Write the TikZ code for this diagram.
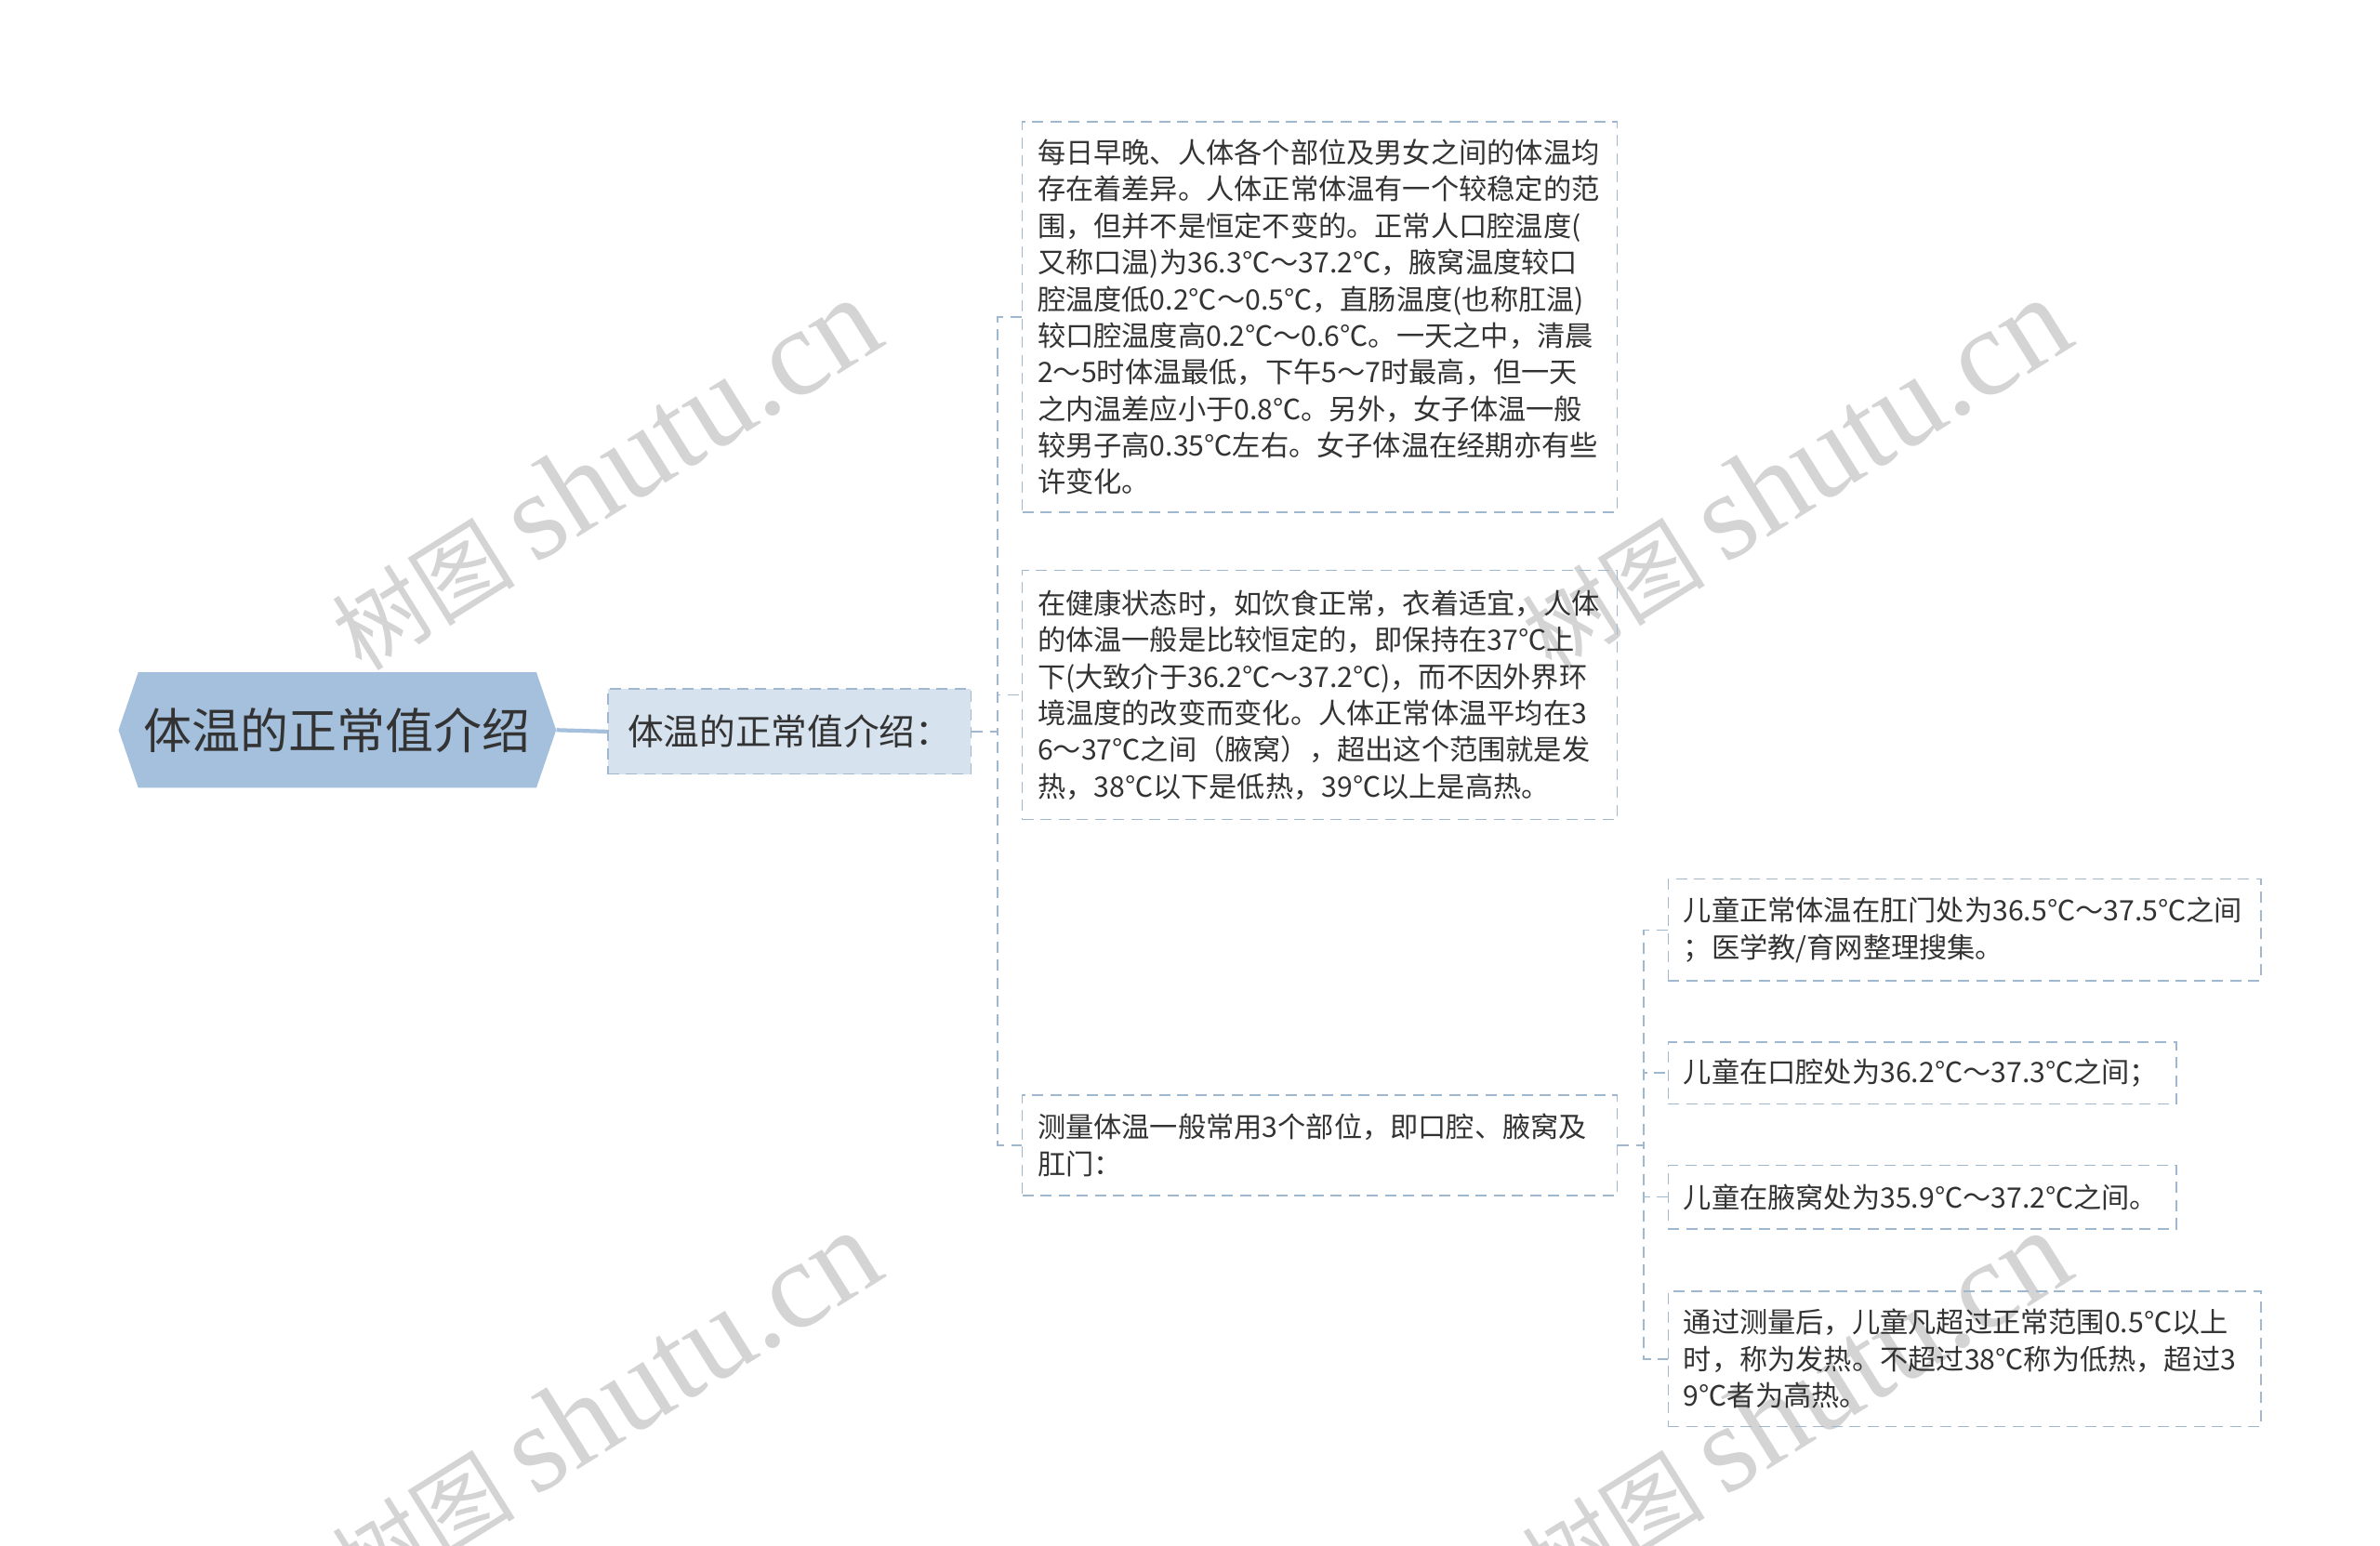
\documentclass[tikz,border=0pt]{standalone}
\usepackage{fontspec}
\setmainfont{Noto Sans CJK SC}
\newfontfamily\wmserif{Liberation Serif}
\usetikzlibrary{positioning}
\definecolor{rootblue}{RGB}{164,192,220}
\definecolor{subfill}{RGB}{214,226,237}
\definecolor{dashblue}{RGB}{160,184,207}
\definecolor{txt}{RGB}{51,51,51}
\definecolor{wmgray}{RGB}{212,212,212}
\tikzset{
  dashes/.style={line width=0.45pt, dash pattern=on 1.2mm off 0.75mm},
  rootnode/.style={minimum width=47mm, minimum height=12.4mm, inner sep=0pt, text=txt,
    font=\fontsize{14.8pt}{16pt}\selectfont},
  subnode/.style={draw=dashblue, fill=subfill, dashes, minimum width=39.05mm, minimum height=9.15mm,
    inner sep=0pt, text=txt, font=\fontsize{11pt}{13pt}\selectfont},
  leaf/.style={draw=dashblue, dashes, text width=#1, inner xsep=1.64mm, inner ysep=0pt, align=left,
    text=txt, font=\fontsize{8.6pt}{11.2pt}\selectfont},
  link/.style={draw=dashblue, dashes},
  wmark/.style={text=wmgray, rotate=32, inner sep=0pt, font=\fontsize{28pt}{30pt}\selectfont}
}
\begin{document}
\begin{tikzpicture}[x=0.16345mm, y=-0.1636mm]
  \fill[white] (0,0) rectangle (1566.3,1016.4);
  \useasboundingbox (0,0) rectangle (1566.3,1016.4);

  \node[wmark] (wm1) at (398,312) {树图 {\wmserif\fontsize{38pt}{40pt}\selectfont shutu.cn}};
  \node[wmark] (wm2) at (1181,312) {树图 {\wmserif\fontsize{38pt}{40pt}\selectfont shutu.cn}};
  \node[wmark] (wm3) at (398,925) {树图 {\wmserif\fontsize{38pt}{40pt}\selectfont shutu.cn}};
  \node[wmark] (wm4) at (1181,925) {树图 {\wmserif\fontsize{38pt}{40pt}\selectfont shutu.cn}};

  \fill[rootblue] (78,480)--(91,442)--(353,442)--(366,480)--(353,518)--(91,518)--cycle;
  \node[rootnode] (root) at (222,480) {体温的正常值介绍};

  \node[subnode] (sub) at (519.5,481) {体温的正常值介绍：};

  \node[leaf=60.7mm, minimum height=42.0mm] (b1) at (868.5,208.5) {每日早晚、人体各个部位及男女之间的体温均\\
    存在着差异。人体正常体温有一个较稳定的范\\
    围，但并不是恒定不变的。正常人口腔温度(\\
    又称口温)为36.3℃～37.2℃，腋窝温度较口\\
    腔温度低0.2℃～0.5℃，直肠温度(也称肛温)\\
    较口腔温度高0.2℃～0.6℃。一天之中，清晨\\
    2～5时体温最低，下午5～7时最高，但一天\\
    之内温差应小于0.8℃。另外，女子体温一般\\
    较男子高0.35℃左右。女子体温在经期亦有些\\
    许变化。};
  \node[leaf=60.7mm, minimum height=26.8mm] (b2) at (868.5,457) {在健康状态时，如饮食正常，衣着适宜，人体\\
    的体温一般是比较恒定的，即保持在37℃上\\
    下(大致介于36.2℃～37.2℃)，而不因外界环\\
    境温度的改变而变化。人体正常体温平均在3\\
    6～37℃之间（腋窝），超出这个范围就是发\\
    热，38℃以下是低热，39℃以上是高热。};
  \node[leaf=60.7mm, minimum height=10.8mm] (b3) at (868.5,753) {测量体温一般常用3个部位，即口腔、腋窝及\\
    肛门：};

  \node[leaf=60.5mm, minimum height=10.95mm] (c1) at (1293,611.5) {儿童正常体温在肛门处为36.5℃～37.5℃之间\\
    ；医学教/育网整理搜集。};
  \node[leaf=51.35mm, minimum height=6.7mm] (c2) at (1265,705.5) {儿童在口腔处为36.2℃～37.3℃之间；};
  \node[leaf=51.35mm, minimum height=6.85mm] (c3) at (1265,787) {儿童在腋窝处为35.9℃～37.2℃之间。};
  \node[leaf=60.5mm, minimum height=14.55mm] (c4) at (1293,893.5) {通过测量后，儿童凡超过正常范围0.5℃以上\\
    时，称为发热。不超过38℃称为低热，超过3\\
    9℃者为高热。};

  \draw[rootblue, line width=1.2pt] (root.east) -- (sub.west);
  \draw[link] (sub.east) -- ++(17,0) |- (b1.west);
  \draw[link] (sub.east) -- ++(17,0) |- (b2.west);
  \draw[link] (sub.east) -- ++(17,0) |- (b3.west);
  \draw[link] (b3.east) -- ++(17,0) |- (c1.west);
  \draw[link] (b3.east) -- ++(17,0) |- (c2.west);
  \draw[link] (b3.east) -- ++(17,0) |- (c3.west);
  \draw[link] (b3.east) -- ++(17,0) |- (c4.west);
\end{tikzpicture}
\end{document}
